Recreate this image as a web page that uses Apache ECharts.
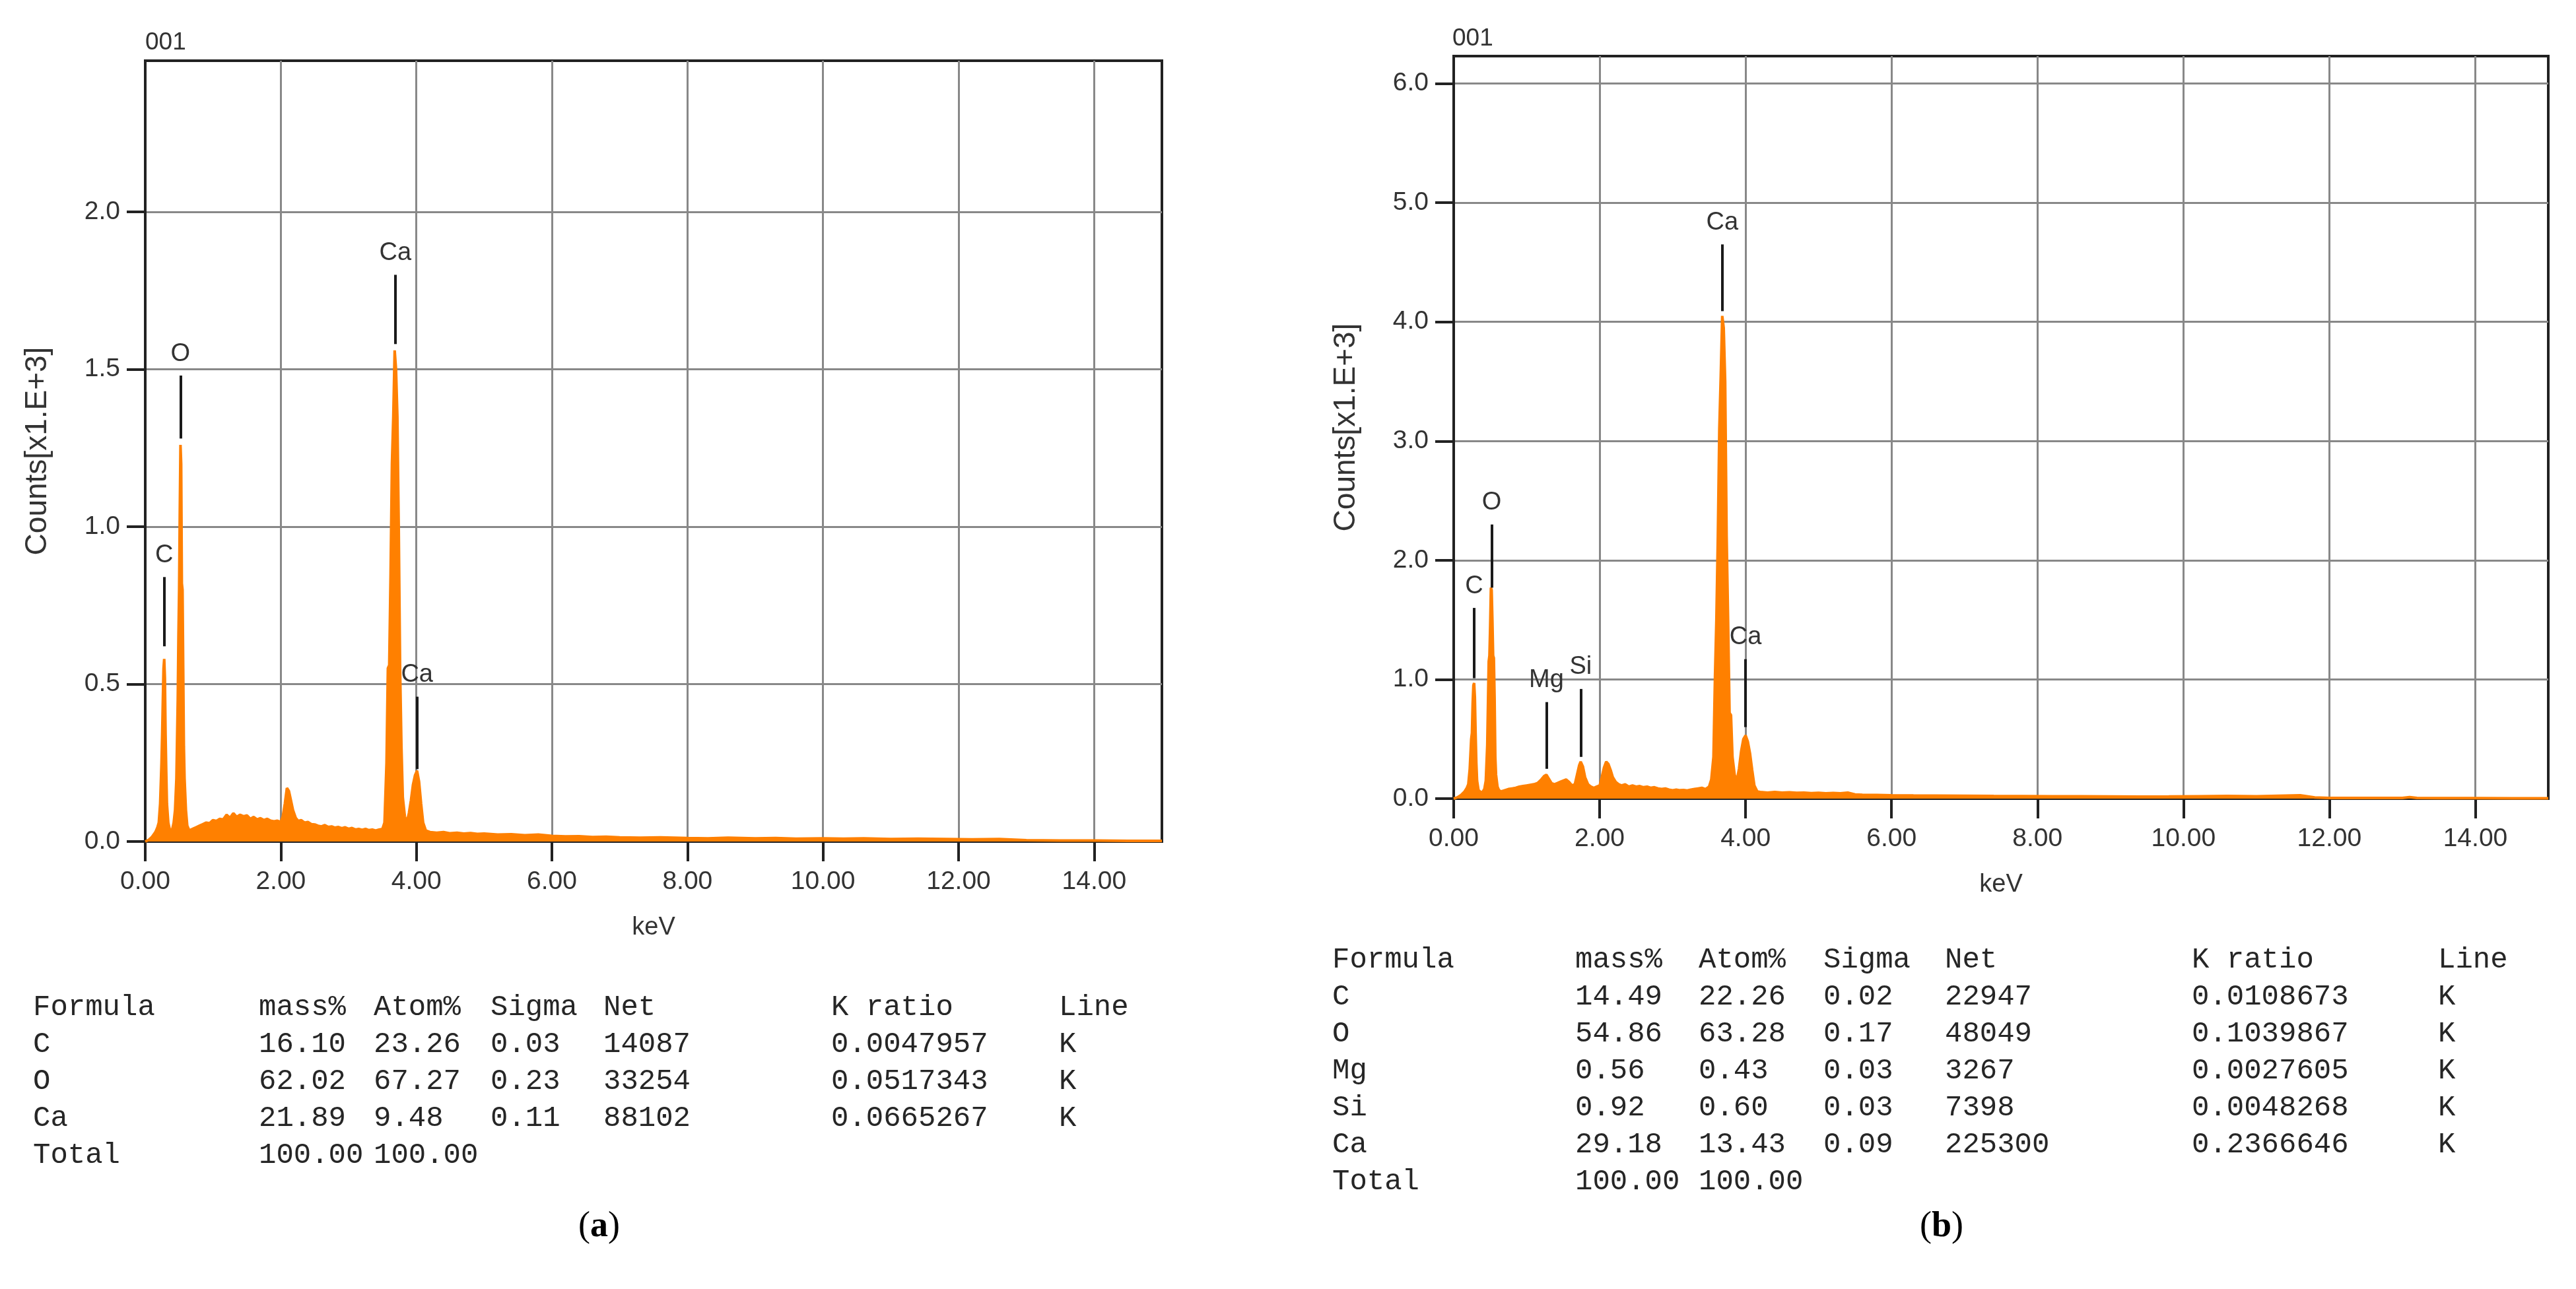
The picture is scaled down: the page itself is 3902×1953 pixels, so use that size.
<!DOCTYPE html>
<html>
<head>
<meta charset="utf-8">
<title>EDS spectra</title>
<script src="https://cdn.jsdelivr.net/npm/echarts@6/dist/echarts.min.js"></script>
<style>
  html, body { margin: 0; padding: 0; background: #fff; }
  #chart { width: 3902px; height: 1953px; }
</style>
</head>
<body>
<div id="chart"></div>
<script>
// ---- spectrum (a): energy in keV, counts in x1000 ----
var keVA = [0.00,0.05,0.10,0.15,0.18,0.20,0.22,0.24,0.25,0.26,0.27,0.28,0.29,0.30,0.31,0.32,0.34,0.36,0.38,0.40,
  0.42,0.44,0.46,0.48,0.49,0.50,0.51,0.52,0.53,0.54,0.55,0.56,0.57,0.58,0.60,0.62,0.65,0.70,0.75,0.80,
  0.85,0.90,0.95,1.00,1.05,1.10,1.15,1.20,1.25,1.30,1.35,1.40,1.45,1.50,1.55,1.60,1.65,1.70,1.75,1.80,
  1.85,1.90,1.95,2.00,2.03,2.06,2.09,2.12,2.15,2.18,2.22,2.26,2.30,2.35,2.40,2.45,2.50,2.55,2.60,2.65,
  2.70,2.75,2.80,2.85,2.90,2.95,3.00,3.05,3.10,3.15,3.20,3.25,3.30,3.35,3.40,3.45,3.50,3.53,3.56,3.58,
  3.60,3.62,3.64,3.66,3.68,3.70,3.72,3.74,3.76,3.78,3.80,3.83,3.86,3.89,3.92,3.95,3.98,4.01,4.04,4.07,
  4.10,4.14,4.20,4.30,4.40,4.50,4.60,4.70,4.80,4.90,5.00,5.20,5.40,5.60,5.80,6.00,6.20,6.40,6.60,6.80,
  7.00,7.30,7.60,8.00,8.30,8.60,9.00,9.30,9.60,10.0,10.3,10.6,11.0,11.4,11.8,12.2,12.6,13.0,13.5,14.0,
  14.5,15.0];
var countsA = [0.000,0.005,0.015,0.030,0.045,0.060,0.120,0.250,0.340,0.450,0.550,0.580,0.520,0.340,0.220,0.120,0.060,0.040,0.035,0.040,
  0.060,0.100,0.200,0.450,0.650,0.800,1.050,1.260,1.200,0.820,0.800,0.550,0.300,0.200,0.100,0.050,0.035,0.040,0.045,0.050,
  0.055,0.060,0.058,0.068,0.065,0.072,0.070,0.085,0.075,0.090,0.078,0.085,0.080,0.083,0.072,0.078,0.070,0.074,0.068,0.072,
  0.066,0.064,0.066,0.062,0.080,0.120,0.170,0.160,0.130,0.100,0.075,0.065,0.068,0.060,0.062,0.055,0.054,0.050,0.048,0.052,
  0.046,0.048,0.044,0.046,0.042,0.045,0.040,0.043,0.038,0.040,0.037,0.040,0.036,0.038,0.035,0.038,0.040,0.060,0.250,0.550,
  0.560,0.850,1.200,1.350,1.560,1.500,1.350,1.000,0.550,0.300,0.140,0.080,0.060,0.090,0.130,0.180,0.210,0.225,0.190,0.120,
  0.060,0.035,0.030,0.028,0.030,0.026,0.028,0.025,0.027,0.024,0.025,0.022,0.023,0.020,0.022,0.018,0.016,0.017,0.014,0.015,
  0.013,0.012,0.013,0.011,0.010,0.012,0.010,0.011,0.009,0.010,0.009,0.010,0.008,0.009,0.008,0.007,0.008,0.004,0.003,0.003,
  0.002,0.002];

// ---- spectrum (b) ----
var keVB = [0.00,0.05,0.10,0.15,0.18,0.20,0.22,0.24,0.25,0.26,0.27,0.28,0.29,0.30,0.31,0.32,0.34,0.36,0.38,0.40,
  0.42,0.44,0.46,0.48,0.49,0.50,0.51,0.52,0.53,0.54,0.55,0.56,0.57,0.58,0.60,0.62,0.65,0.70,0.75,0.80,
  0.85,0.90,0.95,1.00,1.05,1.10,1.15,1.20,1.24,1.27,1.30,1.34,1.38,1.42,1.46,1.50,1.54,1.58,1.62,1.66,
  1.69,1.72,1.74,1.77,1.80,1.84,1.88,1.92,1.96,2.00,2.03,2.06,2.09,2.12,2.15,2.18,2.22,2.26,2.30,2.35,
  2.40,2.45,2.50,2.55,2.60,2.65,2.70,2.75,2.80,2.85,2.90,2.95,3.00,3.05,3.10,3.15,3.20,3.25,3.30,3.35,
  3.40,3.45,3.50,3.53,3.56,3.58,3.60,3.62,3.64,3.66,3.68,3.70,3.72,3.74,3.76,3.78,3.80,3.82,3.85,3.88,
  3.91,3.94,3.97,4.00,4.03,4.06,4.09,4.12,4.16,4.20,4.30,4.40,4.50,4.60,4.70,4.80,4.90,5.00,5.10,5.20,
  5.30,5.40,5.50,5.60,5.80,6.00,6.30,6.60,7.00,7.40,7.80,8.20,8.60,9.00,9.40,9.80,10.2,10.6,11.0,11.3,
  11.6,11.8,12.0,12.5,13.0,13.1,13.2,13.5,14.0,14.5,15.0];
var countsB = [0.000,0.010,0.030,0.060,0.090,0.120,0.250,0.500,0.550,0.800,0.950,0.970,0.850,0.550,0.300,0.150,0.070,0.060,0.050,0.060,
  0.080,0.150,0.450,1.150,1.200,1.450,1.770,1.750,1.500,1.200,1.180,0.850,0.350,0.200,0.100,0.070,0.060,0.070,0.080,0.085,
  0.090,0.100,0.105,0.110,0.115,0.120,0.130,0.160,0.190,0.200,0.170,0.130,0.120,0.130,0.140,0.150,0.160,0.140,0.110,0.120,
  0.200,0.280,0.310,0.270,0.180,0.120,0.100,0.090,0.100,0.110,0.180,0.260,0.310,0.290,0.240,0.180,0.140,0.120,0.110,0.120,
  0.100,0.110,0.100,0.105,0.095,0.100,0.090,0.095,0.085,0.080,0.085,0.075,0.070,0.075,0.070,0.072,0.068,0.075,0.080,0.085,
  0.090,0.080,0.100,0.160,0.350,1.000,1.500,2.200,3.100,3.550,4.050,3.950,3.500,2.200,1.500,0.720,0.700,0.350,0.200,0.150,
  0.250,0.400,0.500,0.530,0.480,0.380,0.240,0.110,0.060,0.055,0.050,0.055,0.050,0.052,0.048,0.050,0.046,0.048,0.045,0.047,
  0.044,0.050,0.035,0.032,0.030,0.028,0.026,0.025,0.024,0.022,0.021,0.020,0.019,0.018,0.017,0.018,0.020,0.022,0.020,0.024,
  0.028,0.010,0.006,0.005,0.005,0.012,0.005,0.004,0.004,0.003,0.003];

// peak markers: element, energy, line bottom, line top (x1000 counts)
var peaksA = [['C',0.28,0.62,0.84],['O',0.52,1.28,1.48],['Ca',3.69,1.58,1.80],['Ca',4.01,0.23,0.46]];
var peaksB = [['C',0.28,1.01,1.60],['O',0.52,1.77,2.30],['Mg',1.27,0.25,0.81],['Si',1.74,0.35,0.92],
  ['Ca',3.68,4.09,4.65],['Ca',4.00,0.60,1.17]];

var xTicks = [0,2,4,6,8,10,12,14];
var yTicksA = [0,0.5,1.0,1.5,2.0];
var yTicksB = [0,1,2,3,4,5,6];

// quantification tables
var tableHead = ['Formula','mass%','Atom%','Sigma','Net','K ratio','Line'];
var tableA = [
  ['C','16.10','23.26','0.03','14087','0.0047957','K'],
  ['O','62.02','67.27','0.23','33254','0.0517343','K'],
  ['Ca','21.89','9.48','0.11','88102','0.0665267','K'],
  ['Total','100.00','100.00','','','','']
];
var tableB = [
  ['C','14.49','22.26','0.02','22947','0.0108673','K'],
  ['O','54.86','63.28','0.17','48049','0.1039867','K'],
  ['Mg','0.56','0.43','0.03','3267','0.0027605','K'],
  ['Si','0.92','0.60','0.03','7398','0.0048268','K'],
  ['Ca','29.18','13.43','0.09','225300','0.2366646','K'],
  ['Total','100.00','100.00','','','','']
];

var chart = echarts.init(document.getElementById('chart'));

var ORANGE = '#ff8000';
var labelFont = 'Liberation Sans';

function pairs(xs, ys) {
  var out = [];
  for (var i = 0; i < xs.length; i++) out.push([xs[i], ys[i]]);
  return out;
}

function peakLines(peaks) {
  return peaks.map(function (p) {
    return [{ coord: [p[1], p[2]] }, { coord: [p[1], p[3]], name: p[0] }];
  });
}

function xAxisFor(gi) {
  return {
    gridIndex: gi, type: 'value', min: 0, max: 15, interval: 2,
    name: 'keV', nameLocation: 'middle', nameGap: 112,
    nameTextStyle: { fontFamily: labelFont, fontSize: 38, color: '#333' },
    axisLine: { lineStyle: { color: '#222', width: 4 } },
    axisTick: { show: true, inside: false, length: 30, customValues: xTicks, lineStyle: { color: '#222', width: 4 } },
    axisLabel: { margin: 42, customValues: xTicks, fontFamily: labelFont, fontSize: 39, color: '#333',
      formatter: function (v) { return v.toFixed(2); } },
    splitLine: { show: true, lineStyle: { color: '#888', width: 3 } }
  };
}

function yAxisFor(gi, max, interval, ticks) {
  return {
    gridIndex: gi, type: 'value', min: 0, max: max, interval: interval,
    name: 'Counts[x1.E+3]', nameLocation: 'middle', nameGap: 140,
    nameTextStyle: { fontFamily: labelFont, fontSize: 46, color: '#333' },
    axisLine: { lineStyle: { color: '#222', width: 4 } },
    axisTick: { show: true, inside: false, length: 28, customValues: ticks, lineStyle: { color: '#222', width: 4 } },
    axisLabel: { margin: 38, customValues: ticks, fontFamily: labelFont, fontSize: 39, color: '#333',
      formatter: function (v) { return v.toFixed(1); } },
    splitLine: { show: true, lineStyle: { color: '#888', width: 3 } }
  };
}

function spectrum(gi, data, peaks) {
  return {
    type: 'line', xAxisIndex: gi, yAxisIndex: gi, data: data,
    showSymbol: false, symbol: 'none', smooth: false, silent: true,
    lineStyle: { color: ORANGE, width: 4 },
    areaStyle: { color: ORANGE, opacity: 1 },
    markLine: {
      silent: true, symbol: 'none', animation: false,
      lineStyle: { color: '#1a1a1a', width: 4, type: 'solid' },
      label: { show: true, position: 'end', distance: 14, formatter: '{b}',
        fontFamily: labelFont, fontSize: 38, color: '#333' },
      data: peakLines(peaks)
    }
  };
}

function tableGraphics(cols, y0, head, rows) {
  var els = [];
  var all = [head].concat(rows);
  all.forEach(function (row, r) {
    row.forEach(function (cell, c) {
      if (!cell) return;
      els.push({
        type: 'text', left: cols[c], top: y0 + r * 56 - 24,
        style: { text: cell, font: '44px "Liberation Mono"', fill: '#262626' }
      });
    });
  });
  return els;
}

var colsA = [50, 392, 566, 743, 914, 1259, 1604];
var colsB = [2018, 2386, 2573, 2762, 2946, 3320, 3693];

var graphics = []
  .concat(tableGraphics(colsA, 1528, tableHead, tableA))
  .concat(tableGraphics(colsB, 1456, tableHead, tableB));

graphics.push({
  type: 'text', left: 220, top: 46,
  style: { text: '001', font: '37px "Liberation Sans"', fill: '#333' }
});
graphics.push({
  type: 'text', left: 2200, top: 40,
  style: { text: '001', font: '37px "Liberation Sans"', fill: '#333' }
});
var capRich = { b: { fontWeight: 'bold', fontFamily: 'Liberation Serif', fontSize: 54, fill: '#000' } };
graphics.push({
  type: 'text', left: 876, top: 1832,
  style: { text: '({b|a})', rich: capRich, font: '54px "Liberation Serif"', fill: '#000' }
});
graphics.push({
  type: 'text', left: 2908, top: 1832,
  style: { text: '({b|b})', rich: capRich, font: '54px "Liberation Serif"', fill: '#000' }
});

var option = {
  backgroundColor: '#fff',
  animation: false,
  grid: [
    { left: 220, top: 92, width: 1540, height: 1183, show: true, borderColor: '#222', borderWidth: 4, backgroundColor: '#fff' },
    { left: 2202, top: 85, width: 1658, height: 1125, show: true, borderColor: '#222', borderWidth: 4, backgroundColor: '#fff' }
  ],
  xAxis: [xAxisFor(0), xAxisFor(1)],
  yAxis: [yAxisFor(0, 2.48, 0.5, yTicksA), yAxisFor(1, 6.23, 1, yTicksB)],
  series: [
    spectrum(0, pairs(keVA, countsA), peaksA),
    spectrum(1, pairs(keVB, countsB), peaksB)
  ],
  graphic: graphics
};

chart.setOption(option);
</script>
</body>
</html>
